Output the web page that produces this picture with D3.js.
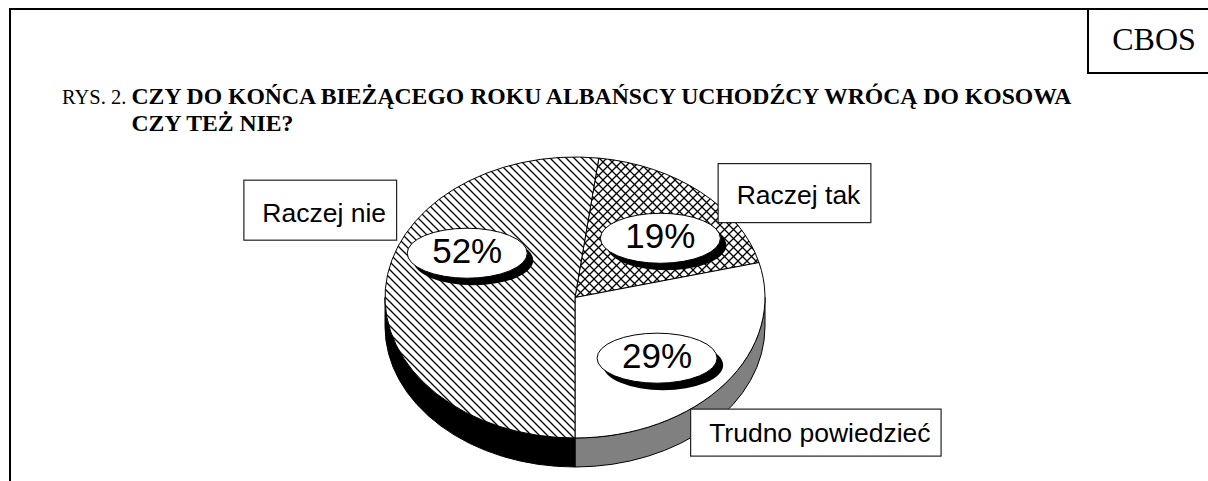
<!DOCTYPE html>
<html>
<head>
<meta charset="utf-8">
<script src="https://cdn.jsdelivr.net/npm/d3@7"></script>
<style>
  html, body { margin: 0; padding: 0; background: #fff; }
  svg { display: block; }
</style>
</head>
<body>
<div id="chart"></div>
<script>
// data
const categories = ["Raczej tak", "Trudno powiedzieć", "Raczej nie"];
const values = [19, 29, 52];
const titlePrefix = "RYS. 2. ";
const titleLines = ["CZY DO KOŃCA BIEŻĄCEGO ROKU ALBAŃSCY UCHODŹCY WRÓCĄ DO KOSOWA", "CZY TEŻ NIE?"];
const source = "CBOS";

// look of each slice
const sliceStyle = {
    "Raczej tak": { fill: "url(#cross)", side: "#000" },
    "Trudno powiedzieć": { fill: "#fff", side: "#808080" },
    "Raczej nie": { fill: "url(#diag)", side: "#000" }
};
// nudges for the percent ovals and the name boxes (relative to the slice anchors)
const pctNudge = { "Raczej tak": [10, 4], "Trudno powiedzieć": [-8, 9], "Raczej nie": [6, -39] };
const boxNudge = { "Raczej tak": [17, -29], "Trudno powiedzieć": [-35, 25], "Raczej nie": [-142, -109] };
const boxShape = { "Raczej tak": { h: 59, base: 41 }, "Trudno powiedzieć": { h: 47, base: 33 }, "Raczej nie": { h: 60, base: 42 } };

const width = 1208, height = 481;
const cx = 575, cy = 297.5, rx = 190, ry = 140.5, depth = 29;

const svg = d3.select("#chart").append("svg")
    .attr("width", width)
    .attr("height", height);

const defs = svg.append("defs");
const diag = defs.append("pattern")
    .attr("id", "diag")
    .attr("patternUnits", "userSpaceOnUse")
    .attr("width", 8).attr("height", 8);
diag.append("rect").attr("width", 8).attr("height", 8).attr("fill", "#fff");
diag.append("path")
    .attr("d", "M-1,-1L9,9M-1,7L1,9M7,-1L9,1")
    .attr("stroke", "#000").attr("stroke-width", 1.3);

const cross = defs.append("pattern")
    .attr("id", "cross")
    .attr("patternUnits", "userSpaceOnUse")
    .attr("width", 9).attr("height", 9);
cross.append("rect").attr("width", 9).attr("height", 9).attr("fill", "#fff");
cross.append("path")
    .attr("d", "M-1,-1L10,10M-1,10L10,-1")
    .attr("stroke", "#000").attr("stroke-width", 1.3);

// frame
svg.append("path")
    .attr("d", `M10,481V9H${width}`)
    .attr("fill", "none").attr("stroke", "#000").attr("stroke-width", 2);
svg.append("path")
    .attr("d", `M1088,9V73H${width}`)
    .attr("fill", "none").attr("stroke", "#000").attr("stroke-width", 2);
svg.append("text")
    .attr("x", 1154).attr("y", 50)
    .attr("text-anchor", "middle")
    .attr("font-family", "Liberation Serif, Times New Roman, serif")
    .attr("font-size", 32)
    .text(source);

// title
const title = svg.append("text")
    .attr("font-family", "Liberation Serif, Times New Roman, serif")
    .attr("fill", "#000");
const l1 = title.append("tspan").attr("x", 62).attr("y", 104);
l1.append("tspan").attr("font-size", 20.5).text(titlePrefix);
l1.append("tspan").attr("font-size", 23.7).attr("font-weight", "bold").text(titleLines[0]);
const indent = 62 + title.node().getSubStringLength(0, titlePrefix.length);
title.append("tspan")
    .attr("x", indent).attr("y", 131)
    .attr("font-size", 23.7)
    .attr("font-weight", "bold")
    .text(titleLines[1]);

// pie
const data = categories.map((c, i) => ({ name: c, value: values[i] }));
const start = (180 - (values[0] + values[1]) * 3.6) * Math.PI / 180;
const arcs = d3.pie().sort(null).value(d => d.value)
    .startAngle(start).endAngle(start + 2 * Math.PI)(data);

const pt = (a, k = 1, dy = 0) => [cx + rx * k * Math.sin(a), cy - ry * k * Math.cos(a) + dy];

function topPath(a0, a1) {
    const p0 = pt(a0), p1 = pt(a1);
    const large = a1 - a0 > Math.PI ? 1 : 0;
    return `M${cx},${cy}L${p0}A${rx},${ry} 0 ${large} 1 ${p1}Z`;
}

function sidePath(a0, a1) {
    const p0 = pt(a0), p1 = pt(a1), q0 = pt(a0, 1, depth), q1 = pt(a1, 1, depth);
    return `M${p0}A${rx},${ry} 0 0 1 ${p1}L${q1}A${rx},${ry} 0 0 0 ${q0}Z`;
}

const sides = svg.append("g");
arcs.forEach(d => {
    const b0 = Math.max(d.startAngle, Math.PI / 2);
    const b1 = Math.min(d.endAngle, 3 * Math.PI / 2);
    if (b1 <= b0) return;
    sides.append("path")
        .attr("d", sidePath(b0, b1))
        .attr("fill", sliceStyle[d.data.name].side)
        .attr("stroke", "#000").attr("stroke-width", 1);
});

svg.append("g")
    .selectAll("path")
    .data(arcs)
    .join("path")
    .attr("d", d => topPath(d.startAngle, d.endAngle))
    .attr("fill", d => sliceStyle[d.data.name].fill)
    .attr("stroke", "#000")
    .attr("stroke-width", 1)
    .attr("stroke-linejoin", "round");

// percent ovals
const pct = svg.append("g")
    .selectAll("g")
    .data(arcs)
    .join("g")
    .attr("transform", d => {
        const mid = (d.startAngle + d.endAngle) / 2;
        const [x, y] = pt(mid, 0.6);
        const n = pctNudge[d.data.name];
        return `translate(${x + n[0]},${y + n[1]})`;
    });
pct.append("ellipse")
    .attr("cx", 6).attr("cy", 7).attr("rx", 60).attr("ry", 25)
    .attr("fill", "#000");
pct.append("ellipse")
    .attr("rx", 60).attr("ry", 25)
    .attr("fill", "#fff").attr("stroke", "#000").attr("stroke-width", 1);
pct.append("text")
    .attr("y", 10)
    .attr("text-anchor", "middle")
    .attr("font-family", "Liberation Sans, Arial, sans-serif")
    .attr("font-size", 35)
    .text(d => `${d.data.value}%`);

// name boxes
const boxes = svg.append("g")
    .selectAll("g")
    .data(arcs)
    .join("g")
    .attr("transform", d => {
        const mid = (d.startAngle + d.endAngle) / 2;
        const [x, y] = pt(mid, 1);
        const n = boxNudge[d.data.name];
        return `translate(${x + n[0]},${y + n[1]})`;
    });
boxes.append("rect")
    .attr("fill", "#fff").attr("stroke", "#222").attr("stroke-width", 1.2);
boxes.append("text")
    .attr("x", 19)
    .attr("y", d => boxShape[d.data.name].base)
    .attr("font-family", "Liberation Sans, Arial, sans-serif")
    .attr("font-size", 26.5)
    .text(d => d.data.name);
boxes.each(function (d) {
    const g = d3.select(this);
    const w = g.select("text").node().getComputedTextLength();
    g.select("rect")
        .attr("x", 0.5).attr("y", 0.5)
        .attr("width", w + 29)
        .attr("height", boxShape[d.data.name].h);
});
</script>
</body>
</html>
